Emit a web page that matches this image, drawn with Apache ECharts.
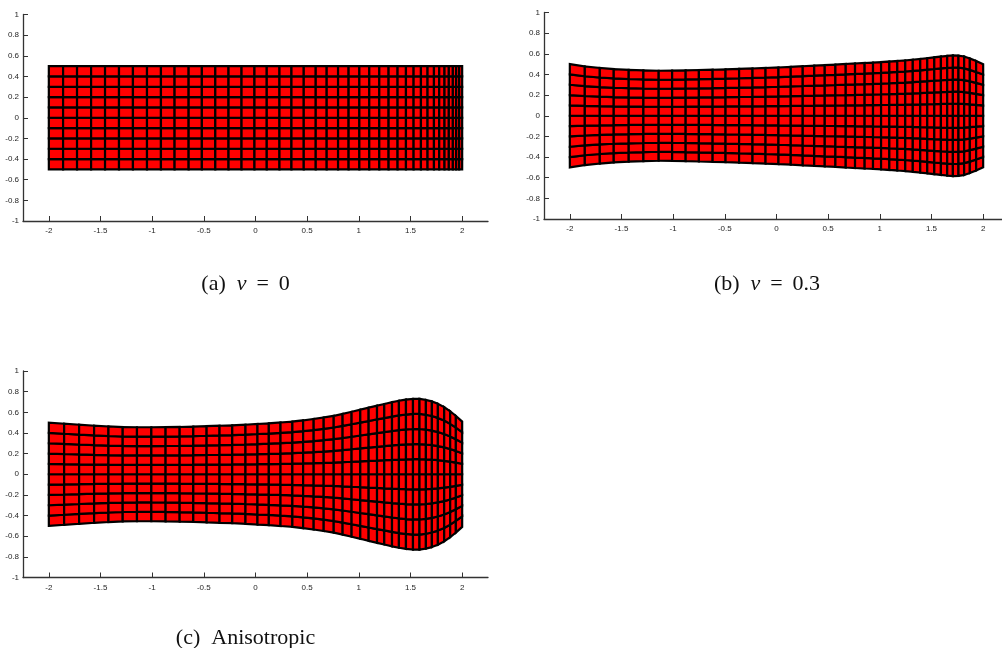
<!DOCTYPE html>
<html><head><meta charset="utf-8">
<style>html,body{margin:0;padding:0;background:#fff}#c{width:1002px;height:648px}</style>
<script src="https://cdn.jsdelivr.net/npm/echarts@6/dist/echarts.min.js"></script>
</head><body><div id="c"></div>
<script>
const xTicks = [-2,-1.5,-1,-0.5,0,0.5,1,1.5,2];
const yTicks = [-1,-0.8,-0.6,-0.4,-0.2,0,0.2,0.4,0.6,0.8,1];
const rowLevels = [-1,-0.8,-0.6,-0.4,-0.2,0,0.2,0.4,0.6,0.8,1];

const columnsA = [-2,-1.862,-1.727,-1.591,-1.456,-1.321,-1.186,-1.05,-0.915,-0.783,-0.647,-0.519,-0.389,-0.261,-0.135,-0.01,0.109,0.232,0.348,0.467,0.583,0.689,0.799,0.901,1.005,1.101,1.198,1.288,1.375,1.456,1.53,1.601,1.665,1.727,1.778,1.829,1.871,1.91,1.942,1.971,2];
const halfA = [0.5,0.5,0.5,0.5,0.5,0.5,0.5,0.5,0.5,0.5,0.5,0.5,0.5,0.5,0.5,0.5,0.5,0.5,0.5,0.5,0.5,0.5,0.5,0.5,0.5,0.5,0.5,0.5,0.5,0.5,0.5,0.5,0.5,0.5,0.5,0.5,0.5,0.5,0.5,0.5,0.5];

const columnsB = [-2,-1.855,-1.71,-1.575,-1.43,-1.288,-1.14,-1.01,-0.879,-0.751,-0.618,-0.493,-0.362,-0.232,-0.106,0.019,0.138,0.254,0.365,0.467,0.57,0.67,0.76,0.853,0.934,1.012,1.092,1.169,1.246,1.319,1.391,1.459,1.527,1.591,1.652,1.707,1.761,1.816,1.871,1.932,2];
const halfB = [0.5,0.478,0.463,0.452,0.445,0.44,0.436,0.437,0.44,0.443,0.446,0.45,0.454,0.458,0.463,0.468,0.474,0.48,0.486,0.491,0.496,0.501,0.506,0.511,0.515,0.52,0.525,0.53,0.536,0.543,0.55,0.558,0.566,0.573,0.58,0.584,0.582,0.574,0.555,0.53,0.5];

const columnsC = [-2,-1.852,-1.707,-1.562,-1.423,-1.285,-1.147,-1.008,-0.87,-0.734,-0.602,-0.473,-0.348,-0.225,-0.097,0.019,0.129,0.242,0.357,0.461,0.563,0.66,0.757,0.843,0.93,1.014,1.095,1.176,1.246,1.321,1.388,1.456,1.524,1.587,1.649,1.707,1.765,1.826,1.884,1.939,2];
const halfC = [0.5,0.49,0.48,0.47,0.463,0.457,0.455,0.455,0.456,0.458,0.462,0.466,0.47,0.474,0.48,0.487,0.493,0.501,0.51,0.522,0.535,0.55,0.566,0.585,0.605,0.625,0.645,0.664,0.68,0.698,0.712,0.723,0.73,0.73,0.72,0.705,0.682,0.65,0.61,0.565,0.51];

const panels = [
  {cols: columnsA, half: halfA, left: 23,  top: 14.5, caption: '(a)  {i|\u03BD}\u2009 = \u20090', cx: 245.5, cy: 273},
  {cols: columnsB, half: halfB, left: 544, top: 12.5, caption: '(b)  {i|\u03BD}\u2009 = \u20090.3', cx: 767, cy: 273},
  {cols: columnsC, half: halfC, left: 23,  top: 371,  caption: '(c)  Anisotropic', cx: 245.5, cy: 627}
];

function cells(p) {
  const out = [];
  for (let i = 0; i + 1 < p.cols.length; i++) {
    for (let j = 0; j + 1 < rowLevels.length; j++) {
      out.push([
        p.cols[i],   rowLevels[j]   * p.half[i],
        p.cols[i+1], rowLevels[j]   * p.half[i+1],
        p.cols[i+1], rowLevels[j+1] * p.half[i+1],
        p.cols[i],   rowLevels[j+1] * p.half[i]
      ]);
    }
  }
  return out;
}
const renderCell = (params, api) => {
  const pts = [0,2,4,6].map(k => api.coord([api.value(k), api.value(k+1)]));
  return {type: 'polygon', shape: {points: pts},
    style: {fill: '#ff0000', stroke: '#000', lineWidth: 2.2, lineJoin: 'miter'}};
};
const axisCommon = {
  axisLine: {show: true, onZero: false, lineStyle: {color: '#333', width: 1.3}},
  splitLine: {show: false}
};
const lbl = {fontFamily: 'Liberation Sans', fontSize: 8, color: '#262626'};
const chart = echarts.init(document.getElementById('c'), null, {renderer: 'canvas'});
chart.setOption({
  animation: false,
  backgroundColor: '#fff',
  title: panels.map(p => ({
    text: p.caption, left: p.cx, top: p.cy, textAlign: 'center', padding: 0,
    textStyle: {fontFamily: 'Liberation Serif', fontSize: 22, fontWeight: 'normal', color: '#111',
      rich: {i: {fontFamily: 'Liberation Serif', fontStyle: 'italic', fontSize: 22, color: '#111'}}}
  })),
  grid: panels.map(p => ({left: p.left, top: p.top, width: 465, height: 206.5, containLabel: false, outerBoundsMode: 'none'})),
  xAxis: panels.map((p, i) => ({
    type: 'value', gridIndex: i, min: -2.25, max: 2.25, ...axisCommon,
    axisTick: {show: true, inside: true, length: 5, lineStyle: {color: '#333'}, customValues: xTicks},
    axisLabel: {...lbl, margin: 6, customValues: xTicks, formatter: v => String(v)}
  })),
  yAxis: panels.map((p, i) => ({
    type: 'value', gridIndex: i, min: -1, max: 1, ...axisCommon,
    axisTick: {show: true, inside: true, length: 5, lineStyle: {color: '#333'}, customValues: yTicks},
    axisLabel: {...lbl, margin: 4, customValues: yTicks, formatter: v => String(v)}
  })),
  series: panels.map((p, i) => ({
    type: 'custom', xAxisIndex: i, yAxisIndex: i, coordinateSystem: 'cartesian2d',
    clip: false, silent: true, renderItem: renderCell,
    encode: {x: [0,2,4,6], y: [1,3,5,7]},
    data: cells(p)
  }))
});
</script></body></html>
